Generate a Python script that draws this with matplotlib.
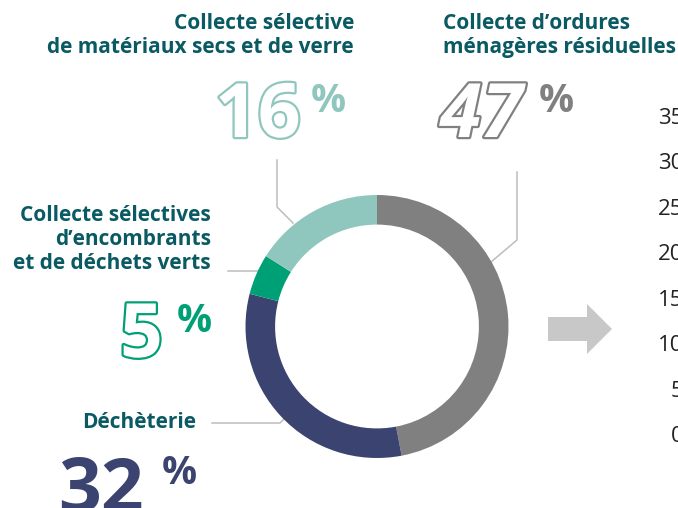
import matplotlib
matplotlib.use("Agg")
import matplotlib.pyplot as plt
from matplotlib import patheffects as pe
from matplotlib.lines import Line2D
from matplotlib.patches import FancyArrow

# ---- data ----
categories = ["Collecte d\u2019ordures\nménagères résiduelles",
              "Déchèterie",
              "Collecte sélectives\nd\u2019encombrants\net de déchets verts",
              "Collecte sélective\nde matériaux secs et de verre"]
shares = [47, 32, 5, 16]
colors = ["#808080", "#3b4470", "#00a077", "#8fc6be"]
axis_ticks = [0, 5, 10, 15, 20, 25, 30, 35]

W, H = 678, 508
TEXT = "#0a5a63"
LINE = "#bdbdbd"
FONT = ["Open Sans", "DejaVu Sans"]

fig = plt.figure(figsize=(W / 100, H / 100), dpi=100)


def fx(x):
    return x / W


def fy(y):
    return 1 - y / H


# ---- donut ----
cx, cy, R = 377, 326.5, 131.5
ax = fig.add_axes([fx(cx - R), fy(cy + R), 2 * R / W, 2 * R / H])
ax.pie(shares, colors=colors, startangle=90, counterclock=False,
       radius=1, wedgeprops=dict(width=0.225, linewidth=0))
ax.set_xlim(-1, 1)
ax.set_ylim(-1, 1)
ax.set_aspect("equal")
ax.axis("off")

# ---- leader lines ----
for pts in [[(517, 172), (517, 240), (491, 262)],
            [(277, 160), (277, 207), (293, 223)],
            [(228, 271), (258, 271)],
            [(212, 423), (280, 423), (286, 417)]]:
    xs = [fx(p[0]) for p in pts]
    ys = [fy(p[1]) for p in pts]
    fig.add_artist(Line2D(xs, ys, color=LINE, lw=1.1, zorder=0))

# ---- category labels ----
lab_kw = dict(fontsize=15, fontweight="bold", color=TEXT, family=FONT,
              linespacing=1.17)
fig.text(fx(443), fy(35.5), categories[0], ha="left", va="center", **lab_kw)
fig.text(fx(354), fy(35.5), categories[3], ha="right", va="center",
         multialignment="right", **lab_kw)
fig.text(fx(211), fy(239.5), categories[2], ha="right", va="center",
         multialignment="right", **lab_kw)
fig.text(fx(196), fy(423), categories[1], ha="right", va="center", **lab_kw)


# ---- percentage numbers ----
def outline(x, y, s, col, italic=False):
    fig.text(fx(x), fy(y), s, ha="left", va="baseline", fontsize=54,
             fontweight="bold", family=FONT, color="white",
             style="italic" if italic else "normal",
             path_effects=[pe.withStroke(linewidth=3.2, foreground=col)])


def pct(x, y, col):
    fig.text(fx(x), fy(y), "%", ha="left", va="baseline", fontsize=28,
             fontweight="bold", family=FONT, color=col)


outline(215, 137, str(shares[3]), colors[3])
pct(311, 112, colors[3])
outline(440, 137, str(shares[0]), colors[0], italic=True)
pct(539, 112, colors[0])
outline(120, 357, str(shares[2]), colors[2])
pct(177, 332, colors[2])
fig.text(fx(58), fy(512), str(shares[1]), ha="left", va="baseline",
         fontsize=54, fontweight="bold", family=FONT, color=colors[1])
pct(162, 484, colors[1])

# ---- arrow ----
fig.add_artist(FancyArrow(fx(548), fy(329), fx(612) - fx(548), 0,
                          width=24 / H, head_width=50 / H,
                          head_length=25 / W, length_includes_head=True,
                          color="#c8c8c8", lw=0, transform=fig.transFigure))

# ---- truncated axis on the right ----
ax2 = fig.add_axes([fx(689), fy(434), 0.1, (434 - 116) / H])
ax2.set_ylim(0, 35)
ax2.set_yticks(axis_ticks)
ax2.set_yticklabels([str(t) for t in axis_ticks], fontsize=16,
                    family=FONT, color="#222222")
ax2.tick_params(axis="y", length=0, pad=4)
ax2.set_xticks([])
for s in ax2.spines.values():
    s.set_visible(False)
ax2.patch.set_alpha(0)

fig.savefig("out.png", dpi=100)
